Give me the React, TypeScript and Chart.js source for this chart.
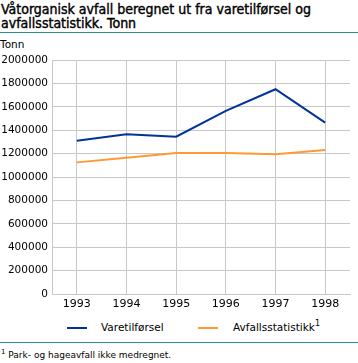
import React, { useEffect, useRef } from "react";
import { Chart, registerables } from "chart.js";

Chart.register(...registerables);

const years = ["1993", "1994", "1995", "1996", "1997", "1998"];
const varetilforsel = [1310000, 1365000, 1345000, 1565000, 1750000, 1465000];
const avfallsstatistikk = [1125000, 1165000, 1205000, 1205000, 1195000, 1230000];
const yMin = 0;
const yMax = 2000000;
const yStep = 200000;

const FONT = "'DejaVu Sans', sans-serif";
const TITLE_FONT = "'DejaVu Sans Condensed', 'DejaVu Sans', sans-serif";
const BLUE = "#003399";
const ORANGE = "#ff9933";
const TEAL = "#2a8c8c";
const GRID = "#c8c8c8";

export default function App() {
  const ref = useRef<HTMLCanvasElement | null>(null);

  useEffect(() => {
    if (!ref.current) return;
    const chart = new Chart(ref.current, {
      type: "line",
      data: {
        labels: years,
        datasets: [
          {
            label: "Varetilførsel",
            data: varetilforsel,
            borderColor: BLUE,
            backgroundColor: BLUE,
            borderWidth: 2,
            pointRadius: 0,
            tension: 0,
          },
          {
            label: "Avfallsstatistikk",
            data: avfallsstatistikk,
            borderColor: ORANGE,
            backgroundColor: ORANGE,
            borderWidth: 2,
            pointRadius: 0,
            tension: 0,
          },
        ],
      },
      options: {
        animation: false,
        responsive: false,
        maintainAspectRatio: false,
        layout: { padding: { top: 24, right: 8, bottom: 0, left: 0 } },
        plugins: { legend: { display: false }, tooltip: { enabled: false } },
        scales: {
          x: {
            offset: true,
            grid: { offset: false, color: GRID, drawTicks: false },
            border: { color: GRID },
            ticks: { color: "#000", font: { family: FONT, size: 11 }, padding: 4, maxRotation: 0 },
            afterFit: (s: any) => {
              s.height = 22;
            },
          },
          y: {
            min: yMin,
            max: yMax,
            grid: { color: GRID, drawTicks: false },
            border: { color: GRID },
            ticks: {
              stepSize: yStep,
              color: "#000",
              font: { family: FONT, size: 10.5 },
              padding: 4,
              callback: (v: any) => String(v),
            },
            afterFit: (s: any) => {
              s.width = 52;
            },
          },
        },
      },
    });
    return () => chart.destroy();
  }, []);

  return (
    <div
      style={{
        position: "absolute",
        left: 0,
        top: 0,
        width: 358,
        height: 363,
        background: "#fff",
        fontFamily: FONT,
        color: "#000",
        overflow: "hidden",
      }}
    >
      <div
        style={{
          position: "absolute",
          left: 1,
          top: 3,
          fontFamily: TITLE_FONT,
          fontSize: 14,
          fontWeight: "normal",
          lineHeight: "13.5px",
          width: 356,
          whiteSpace: "nowrap",
          WebkitTextStroke: "0.4px #000",
        }}
      >
        Våtorganisk avfall beregnet ut fra varetilførsel og
        <br />
        avfallsstatistikk. Tonn
      </div>
      <div style={{ position: "absolute", left: 0, top: 32, width: 358, height: 1, background: TEAL }} />
      <div style={{ position: "absolute", left: 0, top: 38, fontSize: 10.5, lineHeight: "12px" }}>Tonn</div>
      <canvas
        ref={ref}
        width={358}
        height={280}
        style={{ position: "absolute", left: 0, top: 36, width: 358, height: 280 }}
      />
      <div style={{ position: "absolute", left: 67, top: 327, width: 20, height: 2, background: BLUE }} />
      <div style={{ position: "absolute", left: 101, top: 320, fontSize: 10.5, lineHeight: "14px" }}>
        Varetilførsel
      </div>
      <div style={{ position: "absolute", left: 198, top: 327, width: 20, height: 2, background: ORANGE }} />
      <div style={{ position: "absolute", left: 233, top: 320, fontSize: 10.5, lineHeight: "14px" }}>
        Avfallsstatistikk<sup style={{ fontSize: 8, verticalAlign: "top", position: "relative", top: -3 }}>1</sup>
      </div>
      <div style={{ position: "absolute", left: 0, top: 342, width: 358, height: 1, background: TEAL }} />
      <div style={{ position: "absolute", left: 1, top: 349, fontSize: 9, lineHeight: "12px" }}>
        <sup style={{ fontSize: 7, verticalAlign: "top", position: "relative", top: -3 }}>1</sup> Park- og hageavfall ikke
        medregnet.
      </div>
    </div>
  );
}
